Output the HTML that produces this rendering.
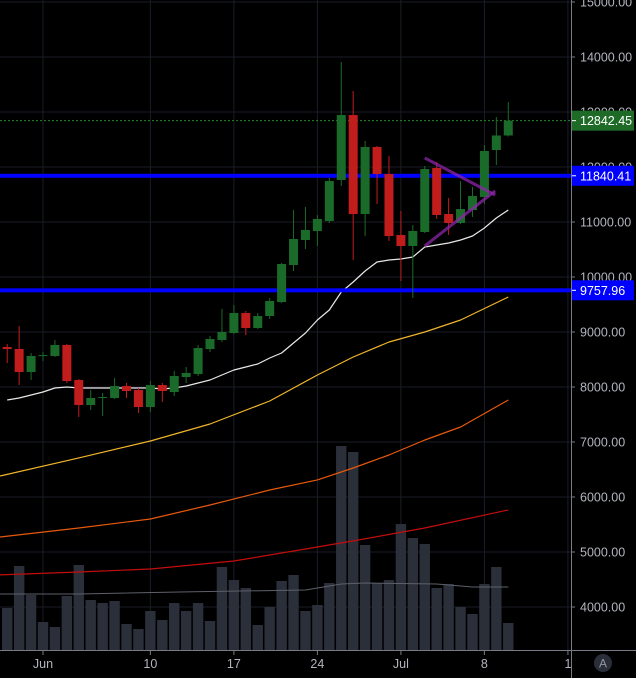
<!DOCTYPE html>
<html><head><meta charset="utf-8"><style>
html,body{margin:0;padding:0;background:#000;}
svg{display:block;}
text{font-family:"Liberation Sans",sans-serif;}
</style></head><body>
<svg id="chart" width="636" height="678" xmlns="http://www.w3.org/2000/svg">
<rect x="0" y="0" width="636" height="678" fill="#000"/>
<g id="grid"></g>
<g id="vol"></g>
<g id="mas"></g>
<g id="levels"></g>
<g id="candles"></g>
<g id="draw"></g>
<g id="axes"></g>
</svg>
<script>
const days=[-3,-2,-1,0,1,2,3,4,5,6,7,8,9,10,11,12,13,14,15,16,17,18,19,20,21,22,23,24,25,26,27,28,29,30,31,32,33,34,35,36,37,38,39];
const opens=[8727,8691,8273,8564,8564,8764,8127,7673,7800,7800,8018,7945,7636,8036,7909,8182,8236,8691,8855,8982,9345,9073,9291,9545,10218,10673,10836,11018,11764,12945,11145,12364,11873,10764,10564,10818,11982,11145,10982,11218,11455,12309,12573];
const highs=[8782,9109,8618,8636,8855,8782,8145,7945,7891,8164,8073,7982,8109,8073,8291,8364,8764,8927,9418,9491,9382,9345,9618,10255,11218,11273,11127,11800,13909,13382,12473,12382,12200,11200,10945,12018,12091,11436,11745,11636,12400,12909,13180];
const lows=[8436,8036,8127,8473,8545,8073,7455,7582,7473,7782,7800,7527,7545,7727,7836,8073,8200,8636,8818,8964,8945,9055,9236,9527,10109,10509,10564,10982,11655,10309,10745,11327,10655,9927,9618,10800,11055,10764,10964,11091,11327,12036,12555];
const closes=[8690,8273,8564,8580,8764,8109,7673,7800,7818,8018,7927,7636,8036,7927,8200,8255,8709,8873,9000,9345,9073,9291,9564,10236,10691,10855,11055,11745,12945,11145,12364,11873,10745,10564,10836,11964,11127,10982,11236,11473,12291,12573,12842.45];
const volumes=[42,84,55,28,23,54,85,50,47,49,26,21,39,30,47,39,47,29,83,70,62,25,43,69,75,39,45,67,204,198,105,67,70,126,112,106,62,66,43,36,66,83,27];
const ma20=[7764,7800,7855,7909,7982,8000,7982,7982,7982,7982,7982,7982,7982,7964,7982,8018,8073,8127,8218,8309,8364,8418,8527,8618,8800,8982,9218,9400,9727,9909,10109,10273,10309,10327,10364,10545,10582,10618,10673,10745,10891,11073,11218];
const ma50Days=[-3.6,3,9,14,19,23,26,29,32,35,39];
const ma50=[6382,6710,7019,7328,7746,8219,8546,8819,9000,9218,9637];
const ma100Days=[-3.6,3,9,14,19,23,26,29,32,35,39];
const ma100=[5273,5436,5600,5855,6128,6310,6528,6764,7037,7273,7764];
const ma200Days=[-3.6,3,9,16,22,26,32,39];
const ma200=[4583,4637,4691,4837,5055,5201,5437,5765];
const volMaDays=[-3.6,3,12,22,25,27,33,36,39];
const volMa=[4237,4237,4274,4310,4419,4437,4419,4364,4364];
const priceTicks=[15000,14000,13000,12000,11000,10000,9000,8000,7000,6000,5000,4000];
const priceTickLabels=["15000.00","14000.00","13000.00","12000.00","11000.00","10000.00","9000.00","8000.00","7000.00","6000.00","5000.00","4000.00"];
const dateTickDays=[0,9,16,23,30,37,44];
const dateTickLabels=["Jun","10","17","24","Jul","8","1"];
const levels=[11840.41,9757.96];
const lastPrice=12842.45;
const triDays=[[32,37.9],[32,37.9]];
const triPrices=[[12164,11491],[10564,11564]];

const NS="http://www.w3.org/2000/svg";
const X=d=>43+d*11.93;
const Y=v=>57+(14000-v)*0.055;
const VBASE=650, VK=1;
const PLOT_R=571;
function el(tag,attrs,parent){const e=document.createElementNS(NS,tag);for(const k in attrs)e.setAttribute(k,attrs[k]);parent.appendChild(e);return e;}
const G=id=>document.getElementById(id);

// grid
priceTicks.forEach((p,i)=>{const l=el('line',{x1:0,x2:PLOT_R,y1:Y(p),y2:Y(p),stroke:'#1a1d29','stroke-width':1},G('grid'));

});
dateTickDays.forEach(d=>{if(X(d)>PLOT_R)return;const l=el('line',{x1:X(d),x2:X(d),y1:0,y2:650,stroke:'#1a1d29','stroke-width':1},G('grid'));

});

// volume
days.forEach((d,i)=>{const h=volumes[i]*VK;const r=el('rect',{x:X(d)-5.2,y:VBASE-h,width:10.4,height:h,fill:'#2b2f3a'},G('vol'));

});

function line(ds,vs,color,w,name){const pts=ds.map((d,i)=>X(d).toFixed(1)+','+Y(vs[i]).toFixed(1)).join(' ');
const p=el('polyline',{points:pts,fill:'none',stroke:color,'stroke-width':w,'stroke-linejoin':'round'},G('mas'));

}
line(volMaDays,volMa,'#5d606b',1,'volume-ma-line');
line(ma200Days,ma200,'#c40d0d',1.2,'ma200-line');
line(ma100Days,ma100,'#e8590c',1.2,'ma100-line');
line(ma50Days,ma50,'#f0b429',1.2,'ma50-line');
line(days,ma20,'#e8e8e8',1.2,'ma20-line');

// levels
levels.forEach(v=>{const l=el('rect',{x:0,y:Y(v)-2,width:PLOT_R,height:4,fill:'#0000ff'},G('levels'));

});
const pl=el('line',{x1:0,x2:PLOT_R,y1:Y(lastPrice),y2:Y(lastPrice),stroke:'#1f8a2a','stroke-width':1,'stroke-dasharray':'2,2'},G('levels'));



// candles
days.forEach((d,i)=>{const up=closes[i]>=opens[i];const c=up?'#1a6b2a':'#c21d1d';const x=X(d);
const g=el('g',{},G('candles'));


el('line',{x1:x,x2:x,y1:Y(highs[i]),y2:Y(lows[i]),stroke:c,'stroke-width':1},g);
const top=Y(Math.max(opens[i],closes[i])),bot=Y(Math.min(opens[i],closes[i]));
el('rect',{x:x-4.5,y:top,width:9,height:Math.max(1,bot-top),fill:c},g);});

// triangle drawing
triDays.forEach((ds,i)=>{const l=el('line',{x1:X(ds[0]),y1:Y(triPrices[i][0]),x2:X(ds[1]),y2:Y(triPrices[i][1]),stroke:'#8e24aa','stroke-width':3,'stroke-opacity':0.75},G('draw'));

});

// axes
const A=G('axes');
let a=el('line',{x1:PLOT_R+0.5,x2:PLOT_R+0.5,y1:0,y2:678,stroke:'#787b86','stroke-width':1},A);


a=el('line',{x1:0,x2:636,y1:650.5,y2:650.5,stroke:'#787b86','stroke-width':1},A);


priceTicks.forEach((p,i)=>{el('line',{x1:PLOT_R,x2:PLOT_R+4,y1:Y(p),y2:Y(p),stroke:'#787b86'},A);
const t=el('text',{x:580,y:Y(p)+4.5,fill:'#b2b5be','font-size':12.5},A);t.textContent=priceTickLabels[i];

});
dateTickDays.forEach((d,i)=>{const x=X(d);el('line',{x1:x,x2:x,y1:651,y2:655,stroke:'#787b86'},A);
const t=el('text',{x:x,y:668,fill:'#b2b5be','font-size':12.5,'text-anchor':'middle'},A);t.textContent=dateTickLabels[i];

});
// clip last date label at axis
function badge(v,txt,color,name){const y=Y(v);const g=el('g',{},A);


el('rect',{x:PLOT_R+1,y:y-10,width:62,height:20,fill:color},g);
el('line',{x1:PLOT_R+1,x2:PLOT_R+5,y1:y,y2:y,stroke:'#fff'},g);
const t=el('text',{x:580,y:y+4.5,fill:'#fff','font-size':12.5},g);t.textContent=txt;}
badge(lastPrice,'12842.45','#1e6b27','last-price-badge');
badge(levels[0],'11840.41','#0000ff','level-badge-upper');
badge(levels[1],'9757.96','#0000ff','level-badge-lower');
const cover=el('rect',{x:PLOT_R+1,y:651,width:64,height:27,fill:'#000'},A);


const ab=el('g',{},A);


el('circle',{cx:603,cy:663,r:9,fill:'#2a2e39'},ab);
const at=el('text',{x:603,y:667.5,fill:'#9598a1','font-size':12,'text-anchor':'middle'},ab);at.textContent='A';
</script>
</body></html>
